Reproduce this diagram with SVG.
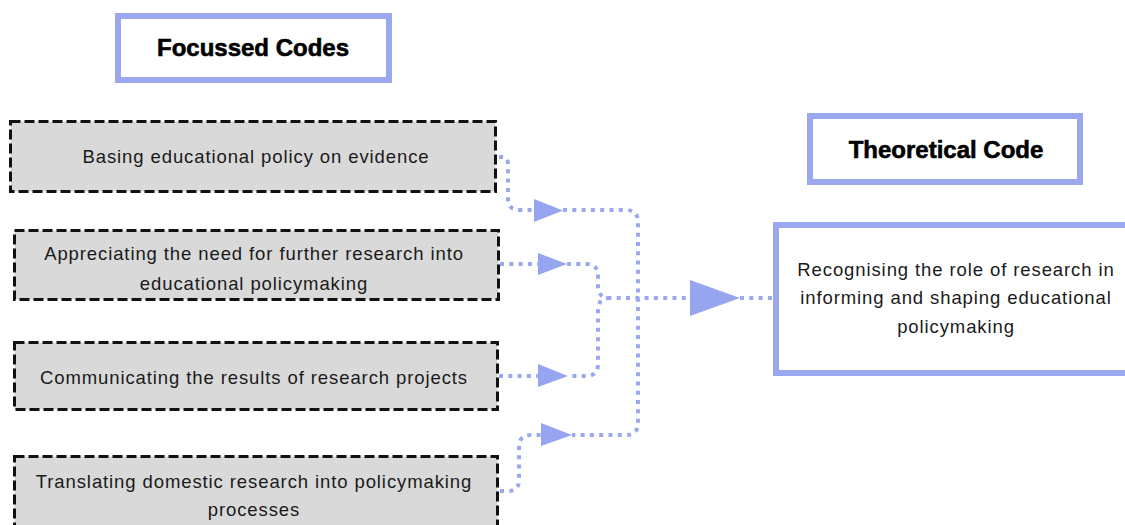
<svg xmlns="http://www.w3.org/2000/svg" width="1125" height="525" viewBox="0 0 1125 525">
  <style>
    .header { fill: #ffffff; stroke: #9ba7ee; stroke-width: 6; }
    .header-text { font-family: "Liberation Sans", Arial, sans-serif; font-weight: 700; font-size: 24px; fill: #000000; stroke: #000000; stroke-width: 0.6; text-anchor: middle; }
    .code { fill: #d9d9d9; stroke: #111111; stroke-width: 3; stroke-dasharray: 10 4; }
    .body-text { font-family: "Liberation Sans", Arial, sans-serif; font-size: 18.5px; letter-spacing: 0.9px; fill: #1a1a1a; text-anchor: middle; }
    .link { fill: none; stroke: #9ba7ee; stroke-width: 4; stroke-dasharray: 4 5.3; }
    .head { fill: #97a5f0; }
  </style>

  <!-- column headings -->
  <g id="focussed-codes-heading">
    <rect class="header" x="118" y="16" width="271" height="64"/>
    <text class="header-text" x="253" y="56">Focussed Codes</text>
  </g>
  <g id="theoretical-code-heading">
    <rect class="header" x="810" y="116" width="270" height="66"/>
    <text class="header-text" x="946" y="158">Theoretical Code</text>
  </g>

  <!-- focussed codes -->
  <g id="code-evidence">
    <rect class="code" x="10.5" y="121.5" width="485" height="70"/>
    <text class="body-text" x="256" y="163">Basing educational policy on evidence</text>
  </g>
  <g id="code-further-research">
    <rect class="code" x="14.5" y="230.5" width="484" height="69"/>
    <text class="body-text" x="254" y="260">Appreciating the need for further research into</text>
    <text class="body-text" x="254" y="290">educational policymaking</text>
  </g>
  <g id="code-communicating">
    <rect class="code" x="14.5" y="342.5" width="483" height="67"/>
    <text class="body-text" x="254" y="384">Communicating the results of research projects</text>
  </g>
  <g id="code-translating">
    <rect class="code" x="14.5" y="456.5" width="483" height="80"/>
    <text class="body-text" x="254" y="488">Translating domestic research into policymaking</text>
    <text class="body-text" x="254" y="516">processes</text>
  </g>

  <!-- theoretical code -->
  <g id="theoretical-code">
    <rect class="header" x="776" y="225" width="400" height="148"/>
    <text class="body-text" x="956" y="276">Recognising the role of research in</text>
    <text class="body-text" x="956" y="304">informing and shaping educational</text>
    <text class="body-text" x="956" y="333">policymaking</text>
  </g>

  <!-- connectors -->
  <g id="connectors">
    <path class="link" d="M 499 157 L 502 157 Q 508 157 508 164 L 508 199 Q 508 210 520 210 L 536 210"/>
    <polygon class="head" points="534,199 563,210.5 534,222"/>
    <path class="link" d="M 563 210 L 626 210 Q 638 210 638 222 L 638 423 Q 638 435 626 435 L 572 435"/>

    <path class="link" d="M 500 491 L 508 491 Q 519 491 519 480 L 519 447 Q 519 435 531 435 L 541 435"/>
    <polygon class="head" points="541,423 572,435 541,446"/>

    <path class="link" d="M 500 264 L 538 264"/>
    <polygon class="head" points="538,253 567,264 538,275"/>
    <path class="link" d="M 567 264 L 586 264 Q 598 264 598 276 L 598 286 Q 598 298 610 298 L 690 298"/>
    <path class="link" d="M 610 298 Q 598 298 598 310 L 598 364 Q 598 376 586 376 L 568 376"/>

    <path class="link" d="M 499 376 L 538 376"/>
    <polygon class="head" points="538,364 568,376 538,387"/>

    <polygon class="head" points="690,280 740,298 690,316"/>
    <path class="link" d="M 740 298 L 776 298"/>
  </g>
</svg>
